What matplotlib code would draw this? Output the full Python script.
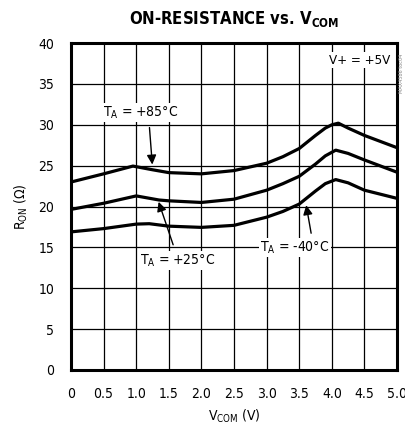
import matplotlib
matplotlib.use('Agg')
import matplotlib.pyplot as plt

# values
v_85 = [0, 0.5, 0.95, 1.25, 1.5, 2.0, 2.5, 3.0, 3.25, 3.5, 3.75, 3.9, 4.0, 4.1, 4.25, 4.5, 5.0]
r_85 = [23.0, 24.0, 24.95, 24.5, 24.15, 24.0, 24.4, 25.3, 26.1, 27.1, 28.7, 29.6, 30.0, 30.2, 29.6, 28.7, 27.2]

v_25 = [0, 0.5, 1.0, 1.35, 1.5, 2.0, 2.5, 3.0, 3.25, 3.5, 3.75, 3.9, 4.06, 4.25, 4.5, 5.0]
r_25 = [19.65, 20.4, 21.3, 20.8, 20.7, 20.5, 20.9, 22.0, 22.8, 23.7, 25.2, 26.2, 26.9, 26.5, 25.7, 24.2]

v_m40 = [0, 0.5, 1.0, 1.2, 1.5, 2.0, 2.5, 3.0, 3.25, 3.5, 3.75, 3.9, 4.06, 4.25, 4.5, 5.0]
r_m40 = [16.9, 17.3, 17.85, 17.9, 17.6, 17.45, 17.7, 18.7, 19.4, 20.3, 21.9, 22.8, 23.3, 22.9, 22.0, 21.0]

x_ticks = [0, 0.5, 1.0, 1.5, 2.0, 2.5, 3.0, 3.5, 4.0, 4.5, 5.0]
x_tick_labels = ['0', '0.5', '1.0', '1.5', '2.0', '2.5', '3.0', '3.5', '4.0', '4.5', '5.0']
y_ticks = [0, 5, 10, 15, 20, 25, 30, 35, 40]

plt.rcParams['font.family'] = ['DejaVu Sans']
plt.rcParams['font.stretch'] = 'condensed'
plt.rcParams['mathtext.fontset'] = 'custom'
plt.rcParams['mathtext.rm'] = 'DejaVu Sans:stretch=condensed'
plt.rcParams['mathtext.bf'] = 'DejaVu Sans:bold:stretch=condensed'

fig = plt.figure(figsize=(4.06, 4.33), dpi=100)
ax = fig.add_axes([0.1749, 0.1455, 0.8030, 0.755])

for v, r in [(v_85, r_85), (v_25, r_25), (v_m40, r_m40)]:
    ax.plot(v, r, color='black', linewidth=2.3, zorder=3, solid_joinstyle='round')

ax.set_xlim(0, 5)
ax.set_ylim(0, 40)
ax.set_xticks(x_ticks)
ax.set_xticklabels(x_tick_labels)
ax.set_yticks(y_ticks)
ax.tick_params(length=0, labelsize=10, pad=12)
ax.grid(True, color='black', linewidth=0.9)
ax.set_axisbelow(True)
for s in ax.spines.values():
    s.set_linewidth(2.2)

ax.set_xlabel(r'$\mathregular{V_{COM}}$ (V)', fontsize=10, labelpad=5)
ax.set_ylabel(r'$\mathregular{R_{ON}}$ ($\Omega$)', fontsize=10, labelpad=6)
fig.text(0.578, 0.956, r'ON-RESISTANCE vs. $\mathbf{V_{COM}}$', ha='center', va='center',
         fontsize=12, fontweight='bold')

box = dict(facecolor='white', edgecolor='none', pad=1.0)
ax.text(4.42, 37.9, 'V+ = +5V', ha='center', va='center', fontsize=9.5, bbox=box, zorder=4)
ax.text(1.07, 31.5, r'$\mathregular{T_A}$ = +85°C', ha='center', va='center', fontsize=10, bbox=box, zorder=4)
ax.text(1.64, 13.4, r'$\mathregular{T_A}$ = +25°C', ha='center', va='center', fontsize=10, bbox=box, zorder=4)
ax.text(3.43, 15.0, r'$\mathregular{T_A}$ = -40°C', ha='center', va='center', fontsize=10, bbox=box, zorder=4)

arrow = dict(arrowstyle='-|>', color='black', lw=1.0, mutation_scale=14)
ax.annotate('', xy=(1.25, 24.8), xytext=(1.2, 30.0), arrowprops=arrow, zorder=5)
ax.annotate('', xy=(1.33, 20.9), xytext=(1.58, 15.0), arrowprops=arrow, zorder=5)
ax.annotate('', xy=(3.6, 20.5), xytext=(3.69, 16.4), arrowprops=arrow, zorder=5)

fig.text(0.988, 0.83, 'MAX4586 toc04', rotation=90, ha='center', va='center',
         fontsize=4, color='#888888')

fig.savefig('out.png', dpi=100)
